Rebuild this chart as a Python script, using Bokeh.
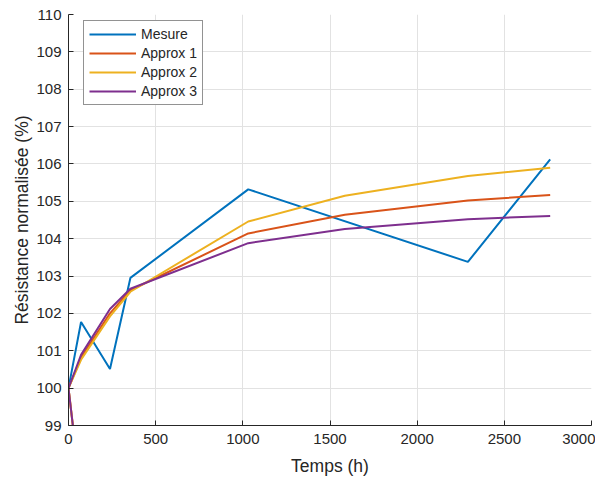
from bokeh.plotting import figure
from bokeh.models import Range1d, FixedTicker, Legend, LegendItem
from bokeh.embed import file_html
from bokeh.resources import INLINE

# ---- data ----
t_mesure = [0, 72, 238, 355, 1031, 2291, 2763]
r_mesure = [100.0, 101.77, 100.51, 102.95, 105.32, 103.38, 106.12]

# approximations: first point is the off-scale start below 99
t_approx = [60, 0, 72, 238, 355, 1031, 1585, 2291, 2763]
r_approx1 = [97.6, 100.0, 100.82, 102.00, 102.62, 104.14, 104.64, 105.02, 105.17]
r_approx2 = [97.6, 100.0, 100.76, 101.92, 102.58, 104.46, 105.15, 105.68, 105.90]
r_approx3 = [97.6, 100.0, 100.89, 102.12, 102.66, 103.88, 104.26, 104.52, 104.61]

series_names = ["Mesure", "Approx 1", "Approx 2", "Approx 3"]
series_colors = ["#0072BD", "#D95319", "#EDB120", "#7E2F8E"]

x_ticks = [0, 500, 1000, 1500, 2000, 2500, 3000]
y_ticks = [99, 100, 101, 102, 103, 104, 105, 106, 107, 108, 109, 110]

FONT = "Liberation Sans"
TXT = "#262626"

p = figure(frame_width=523, frame_height=411,
           x_range=Range1d(0, 3000), y_range=Range1d(99, 110),
           output_backend="svg", toolbar_location=None,
           min_border_left=68, min_border_top=14,
           min_border_right=4, min_border_bottom=10)

p.outline_line_color = None
p.background_fill_color = "white"
p.border_fill_color = "white"

for ax in (p.xaxis[0], p.yaxis[0]):
    ax.axis_line_color = TXT
    ax.axis_line_width = 1
    ax.major_tick_line_color = TXT
    ax.major_tick_in = 5
    ax.major_tick_out = 0
    ax.minor_tick_line_color = None
    ax.major_label_text_font = FONT
    ax.major_label_text_font_size = "15px"
    ax.major_label_text_color = TXT
    ax.axis_label_text_font = FONT
    ax.axis_label_text_font_size = "17.5px"
    ax.axis_label_text_font_style = "normal"
    ax.axis_label_text_color = TXT

p.xaxis.ticker = FixedTicker(ticks=x_ticks)
p.yaxis.ticker = FixedTicker(ticks=y_ticks)
p.xaxis.axis_label = "Temps (h)"
p.yaxis.axis_label = "Résistance normalisée (%)"
p.xaxis.major_label_standoff = 8
p.xaxis.axis_label_standoff = 9
p.yaxis.major_label_standoff = 7
p.yaxis.axis_label_standoff = 1

for g in (p.xgrid[0], p.ygrid[0]):
    g.grid_line_color = "#e2e2e2"
    g.grid_line_width = 1

r0 = p.line(t_mesure, r_mesure, line_color=series_colors[0], line_width=2)
r1 = p.line(t_approx, r_approx1, line_color=series_colors[1], line_width=2)
r2 = p.line(t_approx, r_approx2, line_color=series_colors[2], line_width=2)
r3 = p.line(t_approx, r_approx3, line_color=series_colors[3], line_width=2)

legend = Legend(items=[LegendItem(label=n, renderers=[r])
                       for n, r in zip(series_names, [r0, r1, r2, r3])],
                location=(15, 320))
legend.label_text_font = FONT
legend.label_text_font_size = "14px"
legend.label_text_color = TXT
legend.glyph_width = 47
legend.glyph_height = 16
legend.label_height = 16
legend.label_standoff = 5
legend.spacing = 3
legend.padding = 5
legend.margin = 0
legend.border_line_color = TXT
legend.border_line_width = 1
legend.background_fill_color = "white"
legend.background_fill_alpha = 1
p.add_layout(legend, "center")

open("out.html", "w").write(file_html(p, INLINE))
